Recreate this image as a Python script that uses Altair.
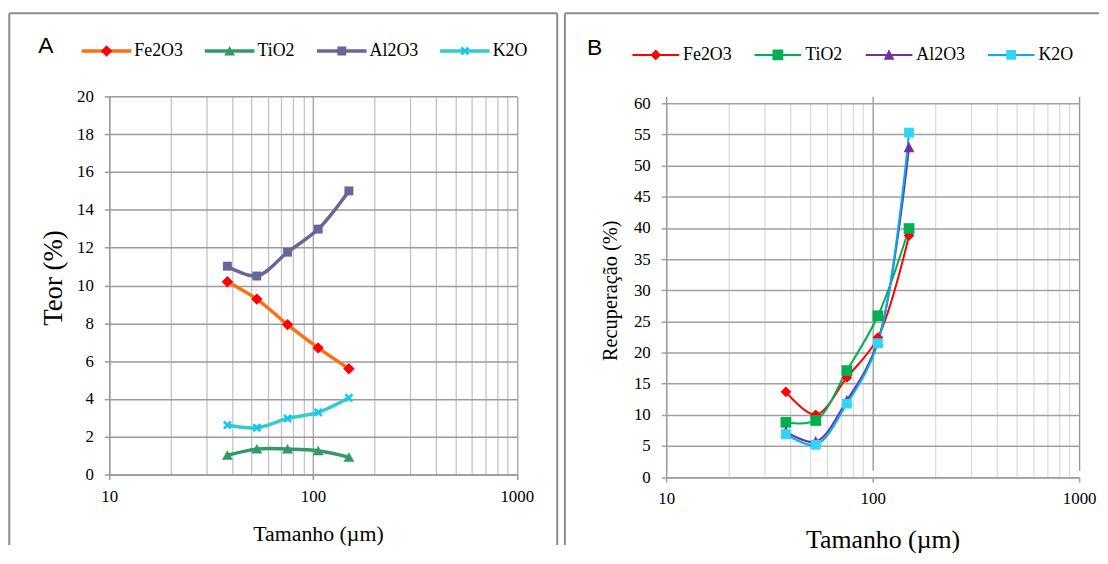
import altair as alt
import pandas as pd

# ---------------- data ----------------
sizes_um = [38, 53, 75, 106, 150]
series = ["Fe2O3", "TiO2", "Al2O3", "K2O"]

teor_fe2o3 = [10.2, 9.28, 7.93, 6.7, 5.6]
teor_tio2 = [1.02, 1.35, 1.35, 1.26, 0.92]
teor_al2o3 = [11.02, 10.5, 11.76, 12.98, 15.0]
teor_k2o = [2.62, 2.48, 2.97, 3.29, 4.06]

rec_fe2o3 = [13.7, 10.0, 16.0, 22.4, 38.8]
rec_tio2 = [8.8, 9.1, 17.1, 25.9, 39.9]
rec_al2o3 = [7.3, 5.7, 12.3, 21.8, 52.9]
rec_k2o = [6.9, 5.2, 11.8, 21.5, 55.3]

x_label_values = [10, 100, 1000]
x_minor_values = [20, 30, 40, 50, 60, 70, 80, 90, 200, 300, 400, 500, 600, 700, 800, 900]
teor_ticks = list(range(0, 21, 2))
rec_ticks = list(range(0, 61, 5))

SERIF = "Liberation Serif"
FRAME = "#8C8C8C"


def long_df(cols):
    rows = []
    for name, vals in zip(series, cols):
        for s, v in zip(sizes_um, vals):
            rows.append({"size": s, "value": v, "s": name})
    return pd.DataFrame(rows)


df_a = long_df([teor_fe2o3, teor_tio2, teor_al2o3, teor_k2o])
df_b = long_df([rec_fe2o3, rec_tio2, rec_al2o3, rec_k2o])


def one():
    return alt.Data(values=[{}])


def vrule(x, y1, y2):
    return alt.Chart(one()).mark_rule(color=FRAME, strokeWidth=2).encode(
        x=alt.value(x), y=alt.value(y1), y2=alt.value(y2))


def hrule(y, x1, x2):
    return alt.Chart(one()).mark_rule(color=FRAME, strokeWidth=2).encode(
        y=alt.value(y), x=alt.value(x1), x2=alt.value(x2))


def panel(df, width, height, ydom, yrange, yticks, ytitle, ytitle_size, ytitle_pad,
          ytitle_y, xtitle_size, xtitle_pad, xtitle_x,
          line_colors, marker_colors, paths, msize, lw, legx, legy, colpad, laboff,
          grid_h, grid_major, grid_minor, axis_col, letter, letter_xy, frames):
    xscale = alt.Scale(type="log", domain=[10, 1000], nice=False)
    yscale = alt.Scale(domain=ydom, nice=False, zero=True, range=yrange)

    common_leg = dict(orient="none", legendX=legx, legendY=legy, direction="horizontal",
                      title=None, symbolSize=msize, symbolStrokeWidth=lw,
                      labelFont=SERIF, labelFontSize=18, labelColor="black",
                      labelOffset=laboff, columnPadding=colpad, clipHeight=24, padding=0)
    line_leg = alt.Legend(symbolType="stroke", zindex=0, **common_leg)

    shape_expr = ""
    for name, p in zip(series[:-1], paths[:-1]):
        shape_expr += f"datum.value === '{name}' ? '{p}' : "
    shape_expr += f"'{paths[-1]}'"
    mark_leg = alt.Legend(labelOpacity=0, zindex=1, symbolStrokeColor="transparent",
                          symbolOpacity=1, symbolType=alt.ExprRef(expr=shape_expr),
                          **common_leg)

    yaxis_kw = dict(orient="left", values=yticks, grid=True, gridColor=grid_h,
                    gridWidth=1.5, domainColor=axis_col, domainWidth=1.5,
                    tickColor=axis_col, tickWidth=1.5, tickSize=5,
                    labelFont=SERIF, labelFontSize=17, labelColor="black",
                    labelPadding=11, title=ytitle, titleFont=SERIF,
                    titleFontSize=ytitle_size, titleFontWeight="normal",
                    titleColor="black", titlePadding=ytitle_pad)
    if ytitle_y is not None:
        yaxis_kw["titleY"] = ytitle_y
    yaxis = alt.Axis(**yaxis_kw)

    lines = alt.Chart(df).mark_line(interpolate="catmull-rom", strokeWidth=lw).encode(
        x=alt.X("size:Q", scale=xscale,
                axis=alt.Axis(orient="top", values=x_minor_values, grid=True,
                              gridColor=grid_minor, gridWidth=1.2, labels=False,
                              ticks=False, domain=False, title=None)),
        y=alt.Y("value:Q", scale=yscale, axis=yaxis),
        stroke=alt.Stroke("s:N", scale=alt.Scale(domain=series, range=line_colors),
                          legend=line_leg),
    )

    points = alt.Chart(df).transform_calculate(m="datum.s").mark_point(
        filled=True, size=msize, opacity=1, strokeWidth=lw).encode(
        x=alt.X("size:Q", scale=xscale,
                axis=alt.Axis(orient="bottom", values=x_label_values, format="d",
                              grid=True, gridColor=grid_major, gridWidth=1.2,
                              domainColor=axis_col, domainWidth=1.5, tickColor=axis_col,
                              tickWidth=1.5, tickSize=5, labelFont=SERIF,
                              labelFontSize=17, labelColor="black", labelPadding=9,
                              labelFlush=False, labelOverlap=False,
                              title="Tamanho (µm)", titleFont=SERIF,
                              titleFontSize=xtitle_size, titleX=xtitle_x,
                              titleFontWeight="normal", titleColor="black",
                              titlePadding=xtitle_pad)),
        y=alt.Y("value:Q", scale=yscale, axis=yaxis),
        shape=alt.Shape("m:N", sort=series, scale=alt.Scale(range=paths), legend=None),
        fill=alt.Fill("m:N", sort=series, scale=alt.Scale(range=marker_colors),
                      legend=mark_leg),
    )

    letter_layer = alt.Chart(one()).mark_text(
        font="Liberation Sans", fontSize=23, align="center", baseline="middle",
        color="black").encode(x=alt.value(letter_xy[0]), y=alt.value(letter_xy[1]),
                              text=alt.value(letter))

    layers = [lines, points, letter_layer] + frames
    return alt.layer(*layers).resolve_axis(x="independent").properties(
        width=width, height=height)


def X(a, e):
    pts = [(-a, -a + e), (-a + e, -a), (0, -e), (a - e, -a), (a, -a + e), (e, 0),
           (a, a - e), (a - e, a), (0, e), (-a + e, a), (-a, a - e), (-e, 0)]
    return "M" + "L".join(f"{x:.3f},{y:.3f}" for x, y in pts) + "Z"


def diamond(h):
    return f"M0,{-h}L{h},0L0,{h}L{-h},0Z"


def square(h):
    return f"M{-h},{-h}H{h}V{h}H{-h}Z"


def tri(w, t, b):
    return f"M0,{-t}L{w},{b}L{-w},{b}Z"


A_W, A_H = 410.5, 381
B_W, B_H = 416, 383.6

panel_a = panel(
    df_a, A_W, A_H, [0, 20], [A_H, 0], teor_ticks, "Teor (%)", 27, 9, 182.5,
    22, 19, A_W / 2 + 5,
    ["#FF6F12", "#339966", "#666699", "#33CCCC"],
    ["#FF0000", "#339966", "#666699", "#14C8F0"],
    [diamond(0.23), tri(0.22, 0.2, 0.18), square(0.18), X(0.18, 0.075)],
    2500, 3.5, -29.75, -57.7, 20, 1,
    "#9A9A9A", "#9A9A9A", "#BFBFBF", "#9A9A9A", "A", (-63.75, -50.7),
    [vrule(-100.75, -83.7, 452), hrule(-83.7, -100.75, 451.25), vrule(451.25, -83.7, 452)],
)

panel_b = panel(
    df_b, B_W, B_H, [0, 60], [B_H, 7], rec_ticks, "Recuperação (%)", 20.5, 13, None,
    26, 20, B_W / 2 + 10,
    ["#FF0000", "#00B050", "#7030A0", "#00B0F0"],
    ["#FF0000", "#00B050", "#7030A0", "#30D5F8"],
    [diamond(0.23), square(0.23), tri(0.23, 0.24, 0.2), square(0.21)],
    2209, 2, -35, -53.7, 22, 3,
    "#A0A0A0", "#8C8C8C", "#D9D9D9", "#A0A0A0", "B", (-72, -48.7),
    [vrule(-102, -83.7, 452), hrule(-83.7, -102, 436)],
)

chart = alt.hconcat(panel_a, panel_b, spacing=5).resolve_scale(
    stroke="independent", shape="independent", fill="independent", y="independent",
    x="independent"
).resolve_legend(
    stroke="independent", shape="independent", fill="independent"
).properties(
    padding={"left": 0, "top": 2, "right": 0, "bottom": 0}
).configure_view(stroke=None)

chart.save("out.html", embed_options={"renderer": "svg", "actions": False})
